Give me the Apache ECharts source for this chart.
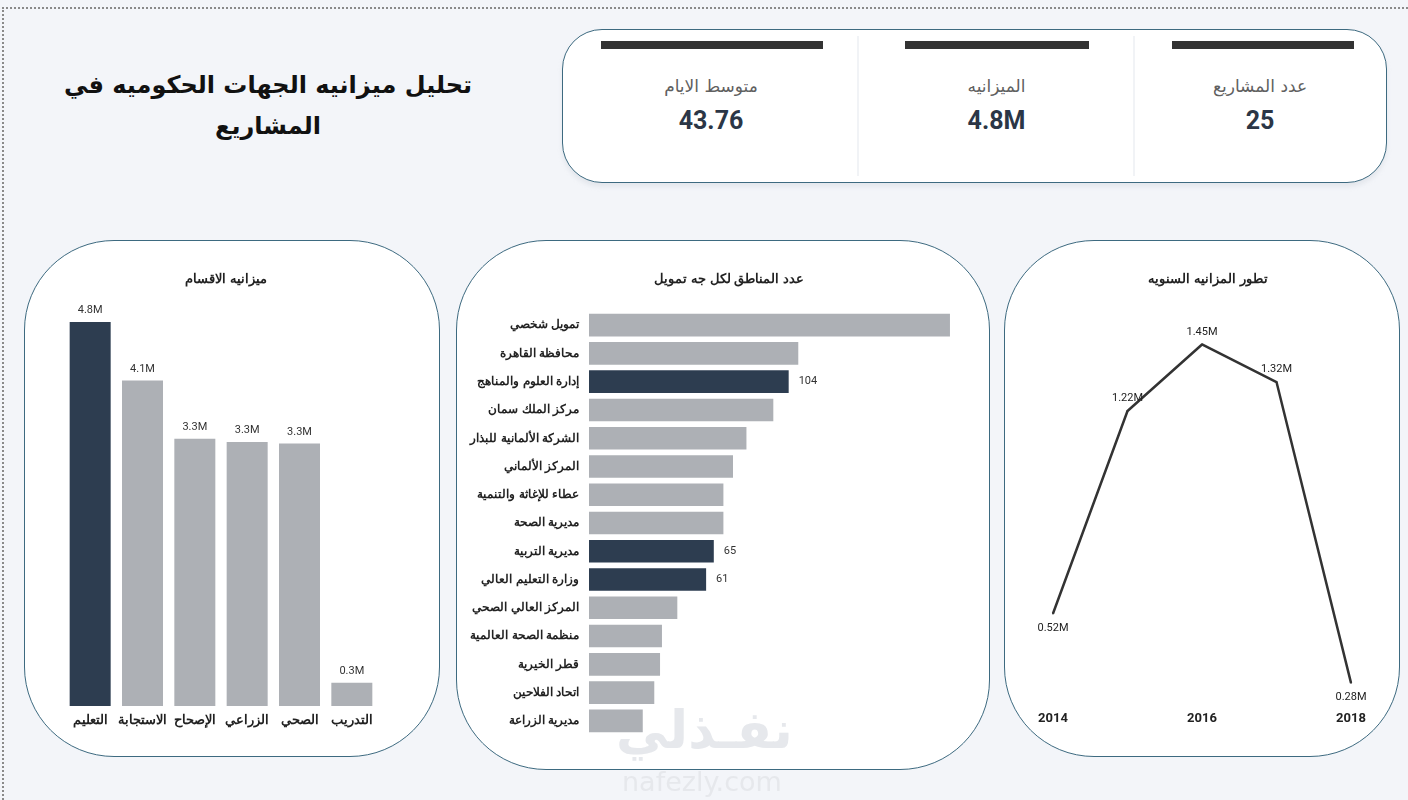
<!DOCTYPE html>
<html lang="ar">
<head>
<meta charset="utf-8">
<title>تحليل ميزانيه الجهات الحكوميه في المشاريع</title>
<script src="https://cdn.jsdelivr.net/npm/echarts@6/dist/echarts.min.js"></script>
<style>
  html, body { margin: 0; padding: 0; }
  body {
    width: 1408px; height: 800px; overflow: hidden; position: relative;
    background: #f3f5f9;
    font-family: "DejaVu Sans", "Noto Sans", sans-serif;
  }
  .frame {
    position: absolute; left: 2px; top: 7px; right: -4px; bottom: -4px;
    border-top: 2px dotted #8a8a8a; border-left: 2px dotted #8a8a8a;
  }
  .title {
    position: absolute; left: 18px; top: 65px; width: 500px;
    text-align: center; direction: rtl; white-space: nowrap;
    font-size: 24px; font-weight: bold; line-height: 41px; color: #111;
  }
  .kpi {
    position: absolute; left: 562px; top: 29px; width: 823px; height: 152px;
    background: #fff; border: 1.5px solid #3d6a80; border-radius: 40px;
    box-shadow: 0 4px 4px rgba(200, 205, 215, 0.35);
  }
  .kpi .cell { position: absolute; top: 0; height: 152px; text-align: center; direction: rtl; }
  .kpi .bar { position: absolute; top: 11px; height: 8px; background: #333; }
  .kpi .lbl { position: absolute; left: 0; right: 0; top: 46px; font-size: 17px; color: #606060; }
  .kpi .val { position: absolute; left: 0; right: 0; top: 76px; font-size: 25px; font-weight: bold; color: #2b3646; }
  .kpi .sep { position: absolute; top: 6px; bottom: 6px; width: 2px; background: #f1f3f6; }
  .panel {
    position: absolute; background: #fff;
    border: 1.5px solid #3d6a80; border-radius: 90px;
  }
  .panel .chart { position: absolute; left: 0; top: 0; width: 100%; height: 100%; }
  .wm1 {
    position: absolute; left: 616px; top: 700px; font-size: 52px; font-weight: bold;
    color: #e6e8ec; direction: rtl;
  }
  .wm2 {
    position: absolute; left: 622px; top: 766px; font-size: 27px; color: #e6e8ec;
  }
</style>
</head>
<body>
<div class="frame"></div>
<div class="title">تحليل ميزانيه الجهات الحكوميه في<br>المشاريع</div>

<div class="kpi" id="kpi"></div>

<div class="panel" style="left:24px;top:240px;width:414px;height:515px;">
  <div class="chart" id="chart1"></div>
</div>
<div class="panel" style="left:456px;top:240px;width:532px;height:528px;">
  <div class="chart" id="chart2"></div>
</div>
<div class="panel" style="left:1004px;top:240px;width:394px;height:515px;">
  <div class="chart" id="chart3"></div>
</div>

<div class="wm1">نفـذلي</div>
<div class="wm2">nafezly.com</div>

<script>
// KPI cards (right to left like the report)
var kpiLabels = ['عدد المشاريع', 'الميزانيه', 'متوسط الايام'];
var kpiValues = ['25', '4.8M', '43.76'];

// budget per department (M)
var deptNames = ['التعليم', 'الاستجابة', 'الإصحاح', 'الزراعي', 'الصحي', 'التدريب'];
var deptBudget = [4.8, 4.07, 3.34, 3.30, 3.28, 0.29];

// number of regions per funder
var funderNames = ['تمويل شخصي', 'محافظة القاهرة', 'إدارة العلوم والمناهج', 'مركز الملك سمان',
  'الشركة الألمانية للبذار', 'المركز الألماني', 'عطاء للإغاثة والتنمية', 'مديرية الصحة',
  'مديرية التربية', 'وزارة التعليم العالي', 'المركز العالي الصحي', 'منظمة الصحة العالمية',
  'قطر الخيرية', 'اتحاد الفلاحين', 'مديرية الزراعة'];
var funderCount = [188, 109, 104, 96, 82, 75, 70, 70, 65, 61, 46, 38, 37, 34, 28];
var funderHighlight = ['إدارة العلوم والمناهج', 'مديرية التربية', 'وزارة التعليم العالي'];

// yearly budget (M)
var years = ['2014', '2015', '2016', '2017', '2018'];
var yearBudget = [0.52, 1.22, 1.45, 1.32, 0.28];

var DARK = '#2d3d50';
var GREY = '#adb0b5';
var NUMFONT = 'Roboto';

// ---- KPI card ----
var cells = [
  {left: 571, width: 252, barL: 38, barW: 182},
  {left: 296, width: 275, barL: 46, barW: 184},
  {left: 0, width: 296, barL: 38, barW: 222}
];
var kpi = document.getElementById('kpi');
var html = '';
for (var i = 0; i < 3; i++) {
  var c = cells[i];
  html += '<div class="cell" style="left:' + c.left + 'px;width:' + c.width + 'px">' +
    '<div class="bar" style="left:' + c.barL + 'px;width:' + c.barW + 'px"></div>' +
    '<div class="lbl">' + kpiLabels[i] + '</div>' +
    '<div class="val" style="font-family:' + NUMFONT + '">' + kpiValues[i] + '</div></div>';
}
html += '<div class="sep" style="left:294px"></div><div class="sep" style="left:570px"></div>';
kpi.innerHTML = html;

// ---- chart 1: budget per department ----
var chart1 = echarts.init(document.getElementById('chart1'));
chart1.setOption({
  title: {
    text: 'ميزانيه الاقسام', left: 196, top: 27, textAlign: 'center',
    textStyle: {fontSize: 13, fontWeight: 'bold', color: '#222'}
  },
  grid: {left: 39, right: 61, top: 65, bottom: 50},
  xAxis: {
    type: 'category', data: deptNames,
    axisLine: {show: false}, axisTick: {show: false},
    axisLabel: {fontSize: 13, fontWeight: 'bold', color: '#222', margin: 8, interval: 0}
  },
  yAxis: {type: 'value', min: 0, max: 5, show: false},
  series: [{
    type: 'bar', barWidth: 41,
    data: deptBudget.map(function (v, i) {
      return {value: v, itemStyle: {color: i === 0 ? DARK : GREY}};
    }),
    label: {
      show: true, position: 'top', distance: 6, fontSize: 11, color: '#333', fontFamily: NUMFONT,
      formatter: function (p) { return p.value.toFixed(1) + 'M'; }
    }
  }]
});

// ---- chart 2: regions per funder ----
var chart2 = echarts.init(document.getElementById('chart2'));
chart2.setOption({
  title: {
    text: 'عدد المناطق لكل جه تمويل', left: 267, top: 27, textAlign: 'center',
    textStyle: {fontSize: 13, fontWeight: 'bold', color: '#222'}
  },
  grid: {left: 132, right: 16, top: 70, bottom: 34},
  xAxis: {type: 'value', min: 0, max: 200, show: false},
  yAxis: {
    type: 'category', data: funderNames, inverse: true,
    axisLine: {show: false}, axisTick: {show: false},
    axisLabel: {fontSize: 12, fontWeight: 'bold', color: '#222', margin: 10}
  },
  series: [{
    type: 'bar', barCategoryGap: '20%',
    data: funderCount.map(function (v, i) {
      var hi = funderHighlight.indexOf(funderNames[i]) >= 0;
      return {
        value: v,
        itemStyle: {color: hi ? DARK : GREY},
        label: {show: hi}
      };
    }),
    label: {position: 'right', distance: 10, fontSize: 11, color: '#333', fontFamily: NUMFONT}
  }]
});

// ---- chart 3: yearly budget ----
var chart3 = echarts.init(document.getElementById('chart3'));
chart3.setOption({
  title: {
    text: 'تطور المزانيه السنويه', left: 198, top: 27, textAlign: 'center',
    textStyle: {fontSize: 13, fontWeight: 'bold', color: '#222'}
  },
  grid: {left: 48, right: 48, top: 89, bottom: 50},
  xAxis: {
    type: 'category', data: years, boundaryGap: false,
    axisLine: {show: false}, axisTick: {show: false},
    axisLabel: {interval: 1, fontSize: 13, fontWeight: 'bold', color: '#222', margin: 6, fontFamily: NUMFONT}
  },
  yAxis: {type: 'value', min: 0.2, max: 1.5, show: false},
  series: [{
    type: 'line', showSymbol: true, symbol: 'circle', symbolSize: 2,
    itemStyle: {color: '#333'},
    lineStyle: {color: '#333', width: 2.5},
    data: yearBudget.map(function (v, i) {
      var low = (i === 0 || i === yearBudget.length - 1);
      return {value: v, label: {position: low ? 'bottom' : 'top', distance: low ? 8 : 6}};
    }),
    label: {
      show: true, fontSize: 11, color: '#222', fontFamily: NUMFONT,
      formatter: function (p) { return p.value.toFixed(2) + 'M'; }
    }
  }]
});
</script>
</body>
</html>
